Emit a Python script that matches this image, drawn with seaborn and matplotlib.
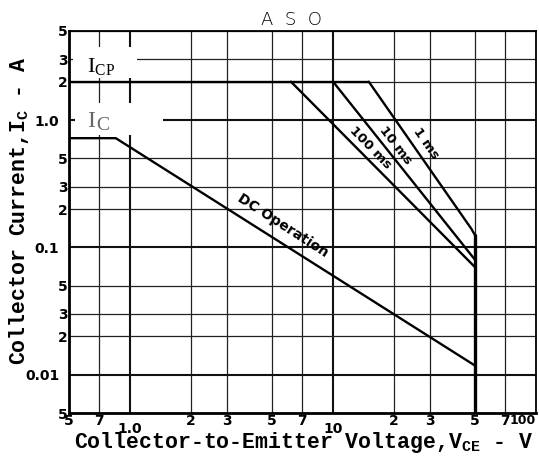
import numpy as np
import pandas as pd
import matplotlib
matplotlib.use("Agg")
import matplotlib.pyplot as plt
import seaborn as sns
from matplotlib.patches import Rectangle

sns.set_theme(style="white")
plt.rcParams["font.family"] = ["DejaVu Sans"]
plt.rcParams["mathtext.fontset"] = "custom"
plt.rcParams["mathtext.rm"] = "Liberation Serif"
plt.rcParams["mathtext.tt"] = "Liberation Mono:bold"

# ---------------- data ----------------
icp_v = [0.5, 15.0]
icp_i = [2.0, 2.0]
ms1_v = [15.0, 48.0, 50.0]
ms1_i = [2.0, 0.14, 0.125]
ms10_v = [10.0, 50.0]
ms10_i = [2.0, 0.08]
ms100_v = [6.2, 50.0]
ms100_i = [2.0, 0.07]
dc_v = [0.5, 0.85, 50.0]
dc_i = [0.72, 0.72, 0.0118]
vceo_v = [50.0, 50.0]
vceo_i = [0.125, 0.005]

x_major = [1, 10]
x_major_labels = ["1.0", "10"]
x_minor = [0.5, 0.7, 2, 3, 5, 7, 20, 30, 50, 70, 100]
x_minor_labels = ["5", "7", "2", "3", "5", "7", "2", "3", "5", "7", "100"]
y_major = [1, 0.1, 0.01]
y_major_labels = ["1.0", "0.1", "0.01"]
y_minor = [5, 3, 2, 0.5, 0.3, 0.2, 0.05, 0.03, 0.02, 0.005]
y_minor_labels = ["5", "3", "2", "5", "3", "2", "5", "3", "2", "5"]

# ---------------- figure ----------------
fig = plt.figure(figsize=(5.39, 4.65), dpi=100)
ax = fig.add_axes([69 / 539, 1 - 413 / 465, 467 / 539, 382 / 465])

curves = [
    (icp_v, icp_i, 1.7),
    (ms1_v, ms1_i, 1.7),
    (ms10_v, ms10_i, 1.7),
    (ms100_v, ms100_i, 1.7),
    (dc_v, dc_i, 1.7),
    (vceo_v, vceo_i, 2.4),
]
for xv, yv, lw in curves:
    df = pd.DataFrame({"x": xv, "y": yv})
    sns.lineplot(data=df, x="x", y="y", sort=False, estimator=None,
                 color="black", lw=lw, ax=ax, zorder=3)

ax.set_xscale("log")
ax.set_yscale("log")
ax.set_xlim(0.5, 100)
ax.set_ylim(0.005, 5)

ax.set_xticks(x_major, x_major_labels)
ax.set_xticks(x_minor, x_minor_labels, minor=True)
ax.set_yticks(y_major, y_major_labels)
ax.set_yticks(y_minor, y_minor_labels, minor=True)

for lab in ax.get_xticklabels(which="both") + ax.get_yticklabels(which="both"):
    lab.set_fontsize(10)
    lab.set_fontweight("bold")
    lab.set_color("black")
last = ax.get_xticklabels(minor=True)[-1]
last.set_horizontalalignment("right")
last.set_fontsize(9)

ax.tick_params(axis="x", which="major", length=0, pad=6.8)
ax.tick_params(axis="x", which="minor", length=0, pad=0.8)
ax.tick_params(axis="y", which="major", length=0, pad=7)
ax.tick_params(axis="y", which="minor", length=0, pad=1.2)

ax.set_axisbelow(True)
ax.grid(True, which="major", color="#111111", lw=1.5)
ax.grid(True, which="minor", color="#222222", lw=0.9)

for s in ax.spines.values():
    s.set_color("black")
    s.set_linewidth(1.3)
ax.spines["left"].set_linewidth(2.0)
ax.spines["bottom"].set_linewidth(2.0)

ax.set_xlabel("")
ax.set_ylabel("")

# white label boxes covering the grid
ax.add_patch(Rectangle((0.008, 0.877), 0.138, 0.081, transform=ax.transAxes,
                       facecolor="white", edgecolor="none", zorder=1))
ax.add_patch(Rectangle((0.012, 0.728), 0.19, 0.084, transform=ax.transAxes,
                       facecolor="white", edgecolor="none", zorder=1))

ax.text(0.0385, 0.8927, r"I$_{\mathrm{CP}}$", transform=ax.transAxes,
        fontsize=16, family="Liberation Serif", ha="left", va="baseline",
        color="black", zorder=4)
ax.text(0.0385, 0.7487, "I", transform=ax.transAxes, fontsize=17,
        family="Liberation Serif", ha="left", va="baseline", color="#666666",
        zorder=4)
ax.text(0.058, 0.742, "C", transform=ax.transAxes, fontsize=14,
        family="Liberation Serif", ha="left", va="baseline", color="#666666",
        zorder=4)

# curve annotations
lab_kw = dict(ha="center", va="center", rotation_mode="anchor", zorder=4,
              color="black", fontweight="bold")
ax.text(28.7, 0.65, "1 ms", rotation=-55, fontsize=9.5, **lab_kw)
ax.text(20.4, 0.628, "10 ms", rotation=-52, fontsize=9.5, **lab_kw)
ax.text(15.3, 0.605, "100 ms", rotation=-45.6, fontsize=9.5, **lab_kw)
ax.text(5.68, 0.147, "DC Operation", rotation=-32.8, fontsize=10, **lab_kw)

# title and axis labels
fig.text(291.5 / 539, 1 - 20 / 465, "A  S  O", ha="center", va="center",
         fontsize=13, fontweight="light", color="black")
fig.text(304 / 539, 1 - 448 / 465,
         r"Collector-to-Emitter Voltage,V$_{\mathtt{CE}}$ - V",
         ha="center", va="baseline", fontsize=15.5,
         family="Liberation Mono", fontweight="bold", color="black")
fig.text(19 / 539, 1 - 211 / 465,
         r"Collector Current,I$_{\mathtt{C}}$ - A",
         ha="center", va="center", rotation=90, fontsize=15.5,
         family="Liberation Mono", fontweight="bold", color="black")

fig.savefig("out.png", dpi=100)
